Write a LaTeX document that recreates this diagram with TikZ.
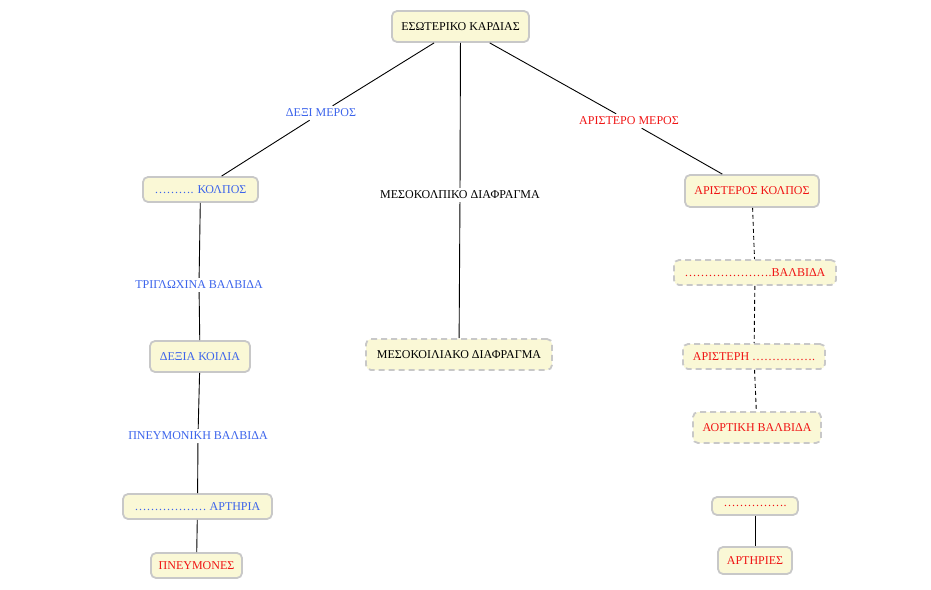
\documentclass[tikz,border=0pt]{standalone}
\usepackage{fontspec}
\setmainfont{Liberation Serif}
\definecolor{nodefill}{RGB}{250,248,214}
\definecolor{nodeborder}{RGB}{200,200,200}
\definecolor{bluetxt}{RGB}{60,100,235}
\definecolor{redtxt}{RGB}{240,20,20}
\tikzset{
  box/.style={rectangle, rounded corners=5pt, draw=nodeborder, line width=1.8pt,
    fill=nodefill, inner sep=0pt, font=\fontsize{12}{14}\selectfont},
  dbox/.style={box, dash pattern=on 6pt off 4pt},
  lbl/.style={rectangle, inner sep=3pt, font=\fontsize{12}{14}\selectfont},
  link/.style={draw=black, line width=0.9pt},
  dlink/.style={link, dash pattern=on 4pt off 3pt},
}
\begin{document}
\begin{tikzpicture}[x=1pt,y=-1pt]
\useasboundingbox (0,0) rectangle (931,589);
% nodes
\node[box, minimum width=137, minimum height=31] (root) at (460.5,26.5) {ΕΣΩΤΕΡΙΚΟ ΚΑΡΔΙΑΣ};
\node[lbl, text=bluetxt] (dexi) at (321,113) {ΔΕΞΙ ΜΕΡΟΣ};
\node[lbl] (meso) at (460,195) {ΜΕΣΟΚΟΛΠΙΚΟ ΔΙΑΦΡΑΓΜΑ};
\node[lbl, text=redtxt] (arist) at (629,121) {ΑΡΙΣΤΕΡΟ ΜΕΡΟΣ};

\node[box, text=bluetxt, minimum width=115, minimum height=25] (kolpos) at (200.5,189.5) {………. ΚΟΛΠΟΣ};
\node[lbl, text=bluetxt] (trig) at (199,285) {ΤΡΙΓΛΩΧΙΝΑ ΒΑΛΒΙΔΑ};
\node[box, text=bluetxt, minimum width=100, minimum height=31] (koilia) at (200,356.5) {ΔΕΞΙΑ ΚΟΙΛΙΑ};
\node[lbl, text=bluetxt] (pneum) at (198,436) {ΠΝΕΥΜΟΝΙΚΗ ΒΑΛΒΙΔΑ};
\node[box, text=bluetxt, minimum width=149, minimum height=25] (arthria) at (197.5,506.5) {……………… ΑΡΤΗΡΙΑ};
\node[box, text=redtxt, minimum width=91, minimum height=25] (pneumones) at (196.5,565.5) {ΠΝΕΥΜΟΝΕΣ};

\node[dbox, minimum width=186, minimum height=31] (mesokoil) at (459,354.5) {ΜΕΣΟΚΟΙΛΙΑΚΟ ΔΙΑΦΡΑΓΜΑ};

\node[box, text=redtxt, minimum width=134, minimum height=32] (akolpos) at (752,191) {ΑΡΙΣΤΕΡΟΣ ΚΟΛΠΟΣ};
\node[dbox, text=redtxt, minimum width=162, minimum height=25] (valv) at (755,272.5) {………………….ΒΑΛΒΙΔΑ};
\node[dbox, text=redtxt, minimum width=142, minimum height=25] (aristeri) at (754,356.5) {ΑΡΙΣΤΕΡΗ …………….};
\node[dbox, text=redtxt, minimum width=128, minimum height=31] (aortiki) at (757,427.5) {ΑΟΡΤΙΚΗ ΒΑΛΒΙΔΑ};
\node[box, text=redtxt, minimum width=86, minimum height=18] (dots) at (755,506) {…………….};
\node[box, text=redtxt, minimum width=74, minimum height=27] (arthries) at (755,560.5) {ΑΡΤΗΡΙΕΣ};

% connectors
\draw[link] (root) -- (dexi);
\draw[link] (dexi) -- (kolpos);
\draw[link] (root) -- (meso);
\draw[link] (meso) -- (mesokoil);
\draw[link] (root) -- (arist);
\draw[link] (arist) -- (akolpos);
\draw[link] (kolpos) -- (trig);
\draw[link] (trig) -- (koilia);
\draw[link] (koilia) -- (pneum);
\draw[link] (pneum) -- (arthria);
\draw[link] (arthria) -- (pneumones);
\draw[dlink] (akolpos) -- (valv);
\draw[dlink] (valv) -- (aristeri);
\draw[dlink] (aristeri) -- (aortiki);
\draw[link] (dots) -- (arthries);
\end{tikzpicture}
\end{document}
